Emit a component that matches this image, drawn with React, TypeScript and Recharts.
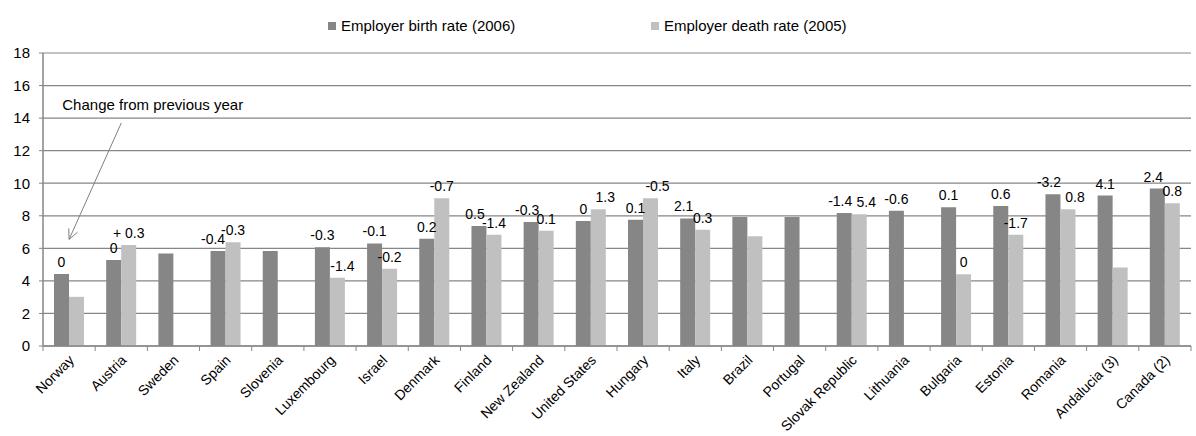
import { BarChart, Bar, XAxis, YAxis, CartesianGrid, LabelList, ReferenceLine } from "recharts";

// countries, left to right
const countries = [
  "Norway", "Austria", "Sweden", "Spain", "Slovenia", "Luxembourg", "Israel", "Denmark",
  "Finland", "New Zealand", "United States", "Hungary", "Italy", "Brazil", "Portugal",
  "Slovak Republic", "Lithuania", "Bulgaria", "Estonia", "Romania", "Andalucia (3)", "Canada (2)",
];

const birthRate = [
  4.43, 5.28, 5.69, 5.83, 5.83, 6.06, 6.3, 6.59, 7.37, 7.62, 7.68, 7.76, 7.84, 7.92, 7.92,
  8.17, 8.31, 8.52, 8.6, 9.32, 9.24, 9.67,
];

const deathRate = [
  3.02, 6.2, null, 6.37, null, 4.2, 4.74, 9.07, 6.84, 7.08, 8.4, 9.07, 7.14, 6.75, null,
  8.09, null, 4.41, 6.84, 8.4, 4.83, 8.77,
];

// change from previous year, written above the bars
const birthChange = [
  "0", "0", null, "-0.4", null, "-0.3", "-0.1", "0.2", "0.5", "-0.3", "0", "0.1", "2.1",
  null, null, "-1.4", "-0.6", "0.1", "0.6", "-3.2", "4.1", "2.4",
];

const deathChange = [
  null, "+ 0.3", null, "-0.3", null, "-1.4", "-0.2", "-0.7", "-1.4", "0.1", "1.3", "-0.5",
  "0.3", null, null, "5.4", null, "0", "-1.7", "0.8", null, "0.8",
];

const yTicks = [0, 2, 4, 6, 8, 10, 12, 14, 16, 18];

const data = countries.map((c, i) => ({
  country: c,
  birth: birthRate[i],
  death: deathRate[i],
  birthLabel: birthChange[i],
  deathLabel: deathChange[i],
}));

const font = "'Liberation Sans', Arial, sans-serif";
const gridColor = "#868686";

// push two labels apart when the bar tops are close, like Excel did
function nudge(i: number, which: "birth" | "death") {
  const b = birthRate[i];
  const d = deathRate[i];
  if (d == null || birthChange[i] == null || deathChange[i] == null) return 0;
  if (d <= b && b - d < 1) return which === "birth" ? -4 : 7;
  if (d > b && d - b < 0.6) return which === "birth" ? -5 : 5;
  return 0;
}

const makeLabel = (which: "birth" | "death") => (props: any) => {
  const { x, y, width, value, index } = props;
  if (value == null || value === "") return null;
  const dx = index != null ? nudge(index, which) : 0;
  return (
    <text
      x={x + width / 2 + dx}
      y={y - 7}
      textAnchor="middle"
      fontSize={14}
      fontFamily={font}
      fill="#000"
    >
      {value}
    </text>
  );
};

function CountryTick(props: any) {
  const { x, y, payload, index } = props;
  const half = payload.offset || 0;
  const last = index === countries.length - 1;
  const ax = x + 6;
  const ay = y + 15;
  return (
    <g>
      <line x1={x - half} y1={y} x2={x - half} y2={y + 5} stroke={gridColor} />
      {last && <line x1={x + half} y1={y} x2={x + half} y2={y + 5} stroke={gridColor} />}
      <text
        x={ax}
        y={ay}
        transform={`rotate(-45, ${ax}, ${ay})`}
        textAnchor="end"
        fontSize={14}
        fontFamily={font}
        fill="#000"
      >
        {payload.value}
      </text>
    </g>
  );
}

function ArrowNote(props: any) {
  const { x1, y1, x2, y2 } = props;
  if (x1 == null) return null;
  // tip is the lower point
  const tip = y1 > y2 ? { x: x1, y: y1 } : { x: x2, y: y2 };
  const tail = y1 > y2 ? { x: x2, y: y2 } : { x: x1, y: y1 };
  const ang = Math.atan2(tail.y - tip.y, tail.x - tip.x);
  const len = 11;
  const a1 = ang + 0.45;
  const a2 = ang - 0.45;
  return (
    <g>
      <line x1={tail.x} y1={tail.y} x2={tip.x} y2={tip.y} stroke="#7f7f7f" strokeWidth={1} />
      <polyline
        points={`${tip.x + len * Math.cos(a1)},${tip.y + len * Math.sin(a1)} ${tip.x},${tip.y} ${tip.x + len * Math.cos(a2)},${tip.y + len * Math.sin(a2)}`}
        fill="none"
        stroke="#7f7f7f"
      />
      <text x={tail.x - 59} y={tail.y - 13} fontSize={15} fontFamily={font} fill="#000">
        Change from previous year
      </text>
    </g>
  );
}

const legendItems = [
  { name: "Employer birth rate (2006)", color: "#868686", left: 328 },
  { name: "Employer death rate (2005)", color: "#c0c0c0", left: 651 },
];

export default function App() {
  return (
    <div style={{ position: "absolute", left: 0, top: 0, width: 1196, height: 436, background: "#fff" }}>
      {legendItems.map((it) => (
        <div
          key={it.name}
          style={{
            position: "absolute",
            left: it.left,
            top: 17,
            display: "flex",
            alignItems: "center",
            fontFamily: font,
            fontSize: 15,
            color: "#000",
            whiteSpace: "nowrap",
          }}
        >
          <span style={{ display: "inline-block", width: 8, height: 8, background: it.color, marginRight: 5 }} />
          {it.name}
        </div>
      ))}
      <BarChart
        width={1196}
        height={436}
        data={data}
        margin={{ top: 53, right: 5, left: 0, bottom: 0 }}
        barGap={0}
        barSize={15}
      >
        <CartesianGrid vertical={false} stroke={gridColor} strokeWidth={1.2} />
        <YAxis
          domain={[0, 18]}
          ticks={yTicks}
          width={43}
          axisLine={{ stroke: gridColor, strokeWidth: 1.5 }}
          tickLine={{ stroke: gridColor }}
          tickSize={4}
          tickMargin={9}
          tick={{ fontSize: 15, fontFamily: font, fill: "#000" }}
        />
        <XAxis
          dataKey="country"
          interval={0}
          height={90}
          axisLine={{ stroke: gridColor, strokeWidth: 1.5 }}
          tickLine={false}
          tickSize={0}
          tickMargin={0}
          tick={<CountryTick />}
        />
        <Bar dataKey="birth" fill="#868686" isAnimationActive={false}>
          <LabelList dataKey="birthLabel" content={makeLabel("birth")} />
        </Bar>
        <Bar dataKey="death" fill="#c0c0c0" isAnimationActive={false}>
          <LabelList dataKey="deathLabel" content={makeLabel("death")} />
        </Bar>
        <ReferenceLine
          segment={[
            { x: "Norway", y: 6.55 },
            { x: "Austria", y: 13.7 },
          ]}
          shape={<ArrowNote />}
          ifOverflow="visible"
        />
      </BarChart>
    </div>
  );
}
